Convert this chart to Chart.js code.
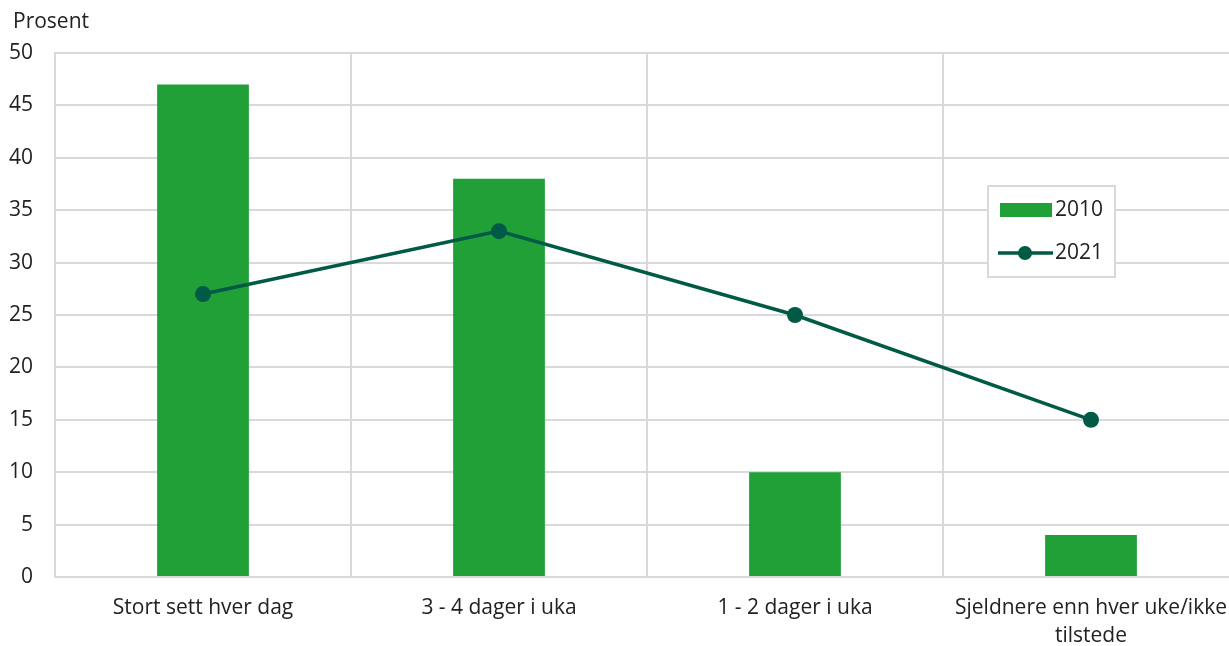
<!DOCTYPE html>
<html>
<head>
<meta charset="utf-8">
<script src="https://cdn.jsdelivr.net/npm/chart.js@4/dist/chart.umd.min.js"></script>
<style>
  html, body { margin: 0; padding: 0; background: #fff; overflow: hidden; }
  #wrap { position: absolute; left: 0; top: 0; width: 1247px; height: 646px; }
</style>
</head>
<body>
<div id="wrap"><canvas id="grafico" width="1247" height="646"></canvas></div>
<script>
// datos
var kategorier = ["Stort sett hver dag", "3 - 4 dager i uka", "1 - 2 dager i uka", ["Sjeldnere enn hver uke/ikke", "tilstede"]];
var verdier2010 = [47, 38, 10, 4];
var verdier2021 = [27, 33, 25, 15];
var yTicks = [0, 5, 10, 15, 20, 25, 30, 35, 40, 45, 50];

var gronn = "#21a038";
var morkGronn = "#005a45";
var rutenett = "#d9d9d9";
var fonte = "'Open Sans', sans-serif";

// leyenda y título del eje
var ekstra = {
  id: "ekstra",
  afterDraw: function (chart) {
    var ctx = chart.ctx;
    ctx.save();
    ctx.font = "21px " + fonte;
    ctx.fillStyle = "#222";
    ctx.textBaseline = "middle";
    ctx.textAlign = "left";
    ctx.fillText("Prosent", 13, 22);

    // caja de leyenda
    ctx.strokeStyle = rutenett;
    ctx.lineWidth = 2;
    ctx.fillStyle = "#fff";
    ctx.fillRect(988, 186, 127, 91);
    ctx.strokeRect(988, 186, 127, 91);

    ctx.fillStyle = gronn;
    ctx.fillRect(1000, 203, 52, 14);

    ctx.strokeStyle = morkGronn;
    ctx.lineWidth = 3.5;
    ctx.beginPath();
    ctx.moveTo(998, 253);
    ctx.lineTo(1053, 253);
    ctx.stroke();
    ctx.fillStyle = morkGronn;
    ctx.beginPath();
    ctx.arc(1025, 253, 7, 0, Math.PI * 2);
    ctx.fill();

    ctx.fillStyle = "#222";
    ctx.fillText("2010", 1055, 210);
    ctx.fillText("2021", 1055, 253);
    ctx.restore();
  }
};

var config = {
  type: "bar",
  data: {
    labels: kategorier,
    datasets: [{
      type: "line",
      label: "2021",
      data: verdier2021,
      borderColor: morkGronn,
      backgroundColor: morkGronn,
      borderWidth: 3.5,
      pointRadius: 8,
      pointHoverRadius: 8,
      pointBackgroundColor: morkGronn,
      pointBorderWidth: 0,
      order: 0
    }, {
      label: "2010",
      data: verdier2010,
      backgroundColor: gronn,
      categoryPercentage: 1,
      barPercentage: 0.31,
      order: 1
    }]
  },
  options: {
    responsive: false,
    animation: false,
    devicePixelRatio: 1,
    layout: { padding: { top: 53, left: 0, right: 0, bottom: 0 } },
    plugins: {
      legend: { display: false },
      tooltip: { enabled: false }
    },
    scales: {
      x: {
        grid: { color: rutenett, lineWidth: 2, drawTicks: false, offset: true },
        border: { color: rutenett, width: 2 },
        ticks: {
          color: "#222",
          font: { family: fonte, size: 21, lineHeight: 1.33 },
          padding: 17,
          maxRotation: 0,
          autoSkip: false
        },
        afterFit: function (scale) { scale.height = 69; }
      },
      y: {
        min: 0,
        max: 50,
        afterBuildTicks: function (scale) {
          scale.ticks = yTicks.map(function (v) { return { value: v }; });
        },
        grid: { color: rutenett, lineWidth: 2, drawTicks: false },
        border: { color: rutenett, width: 2 },
        ticks: {
          color: "#222",
          font: { family: fonte, size: 21 },
          padding: 22
        },
        afterFit: function (scale) { scale.width = 55; }
      }
    }
  },
  plugins: [ekstra]
};

new Chart(document.getElementById("grafico").getContext("2d"), config);
</script>
</body>
</html>
